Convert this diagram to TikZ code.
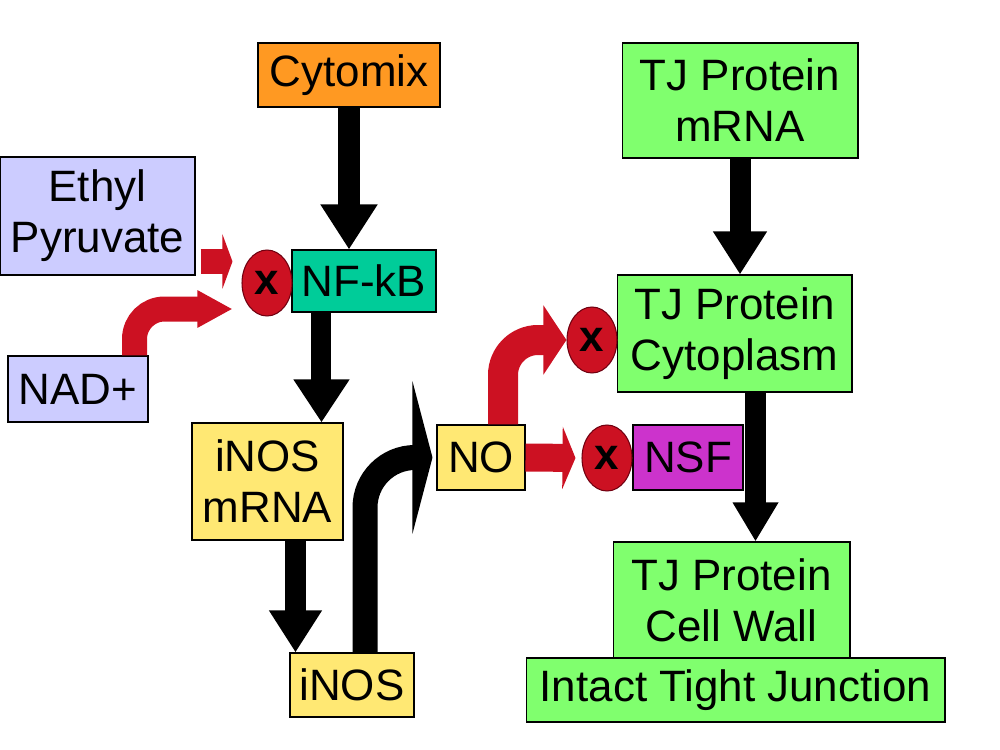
\documentclass[tikz,border=0pt]{standalone}
\usepackage{fontspec}
\setmainfont{Liberation Sans}
\usetikzlibrary{shapes.geometric, arrows.meta, calc}

\definecolor{cytoorange}{HTML}{FF9922}
\definecolor{tjgreen}{HTML}{80FF6E}
\definecolor{lavender}{HTML}{CCCCFF}
\definecolor{nfteal}{HTML}{00CC99}
\definecolor{inosyellow}{HTML}{FFE873}
\definecolor{nsfpurple}{HTML}{CC33CC}
\definecolor{inhibred}{HTML}{CC1122}
\definecolor{darkred}{HTML}{700010}

\tikzset{
  box/.style={draw=black, line width=0.6pt, inner sep=0pt, align=center,
    font=\fontsize{25}{29}\selectfont},
  blocker/.style={ellipse, draw=darkred, line width=0.6pt, fill=inhibred,
    minimum width=1cm, minimum height=1.32cm, inner sep=0pt,
    font=\fontsize{25}{29}\selectfont\bfseries},
  fat/.style n args={3}{line width=#1, -{Triangle[width=#2,length=#3]}},
}

\begin{document}
\begin{tikzpicture}[x=0.02cm, y=-0.02cm]
		\useasboundingbox (0,0) rectangle (1000,750);
		
		% left column
		\node[box, fill=cytoorange, minimum width=3.64cm, minimum height=1.28cm] (cytomix) at (349,75) {Cytomix};
		\node[box, fill=lavender, minimum width=3.9cm, minimum height=2.36cm] (ethyl) at (97.5,216) {Ethyl\\Pyruvate};
		\node[box, fill=nfteal, minimum width=2.88cm, minimum height=1.24cm] (nfkb) at (364,281) {NF-kB};
		\node[box, fill=lavender, minimum width=2.8cm, minimum height=1.32cm] (nad) at (78,389) {NAD+};
		\node[box, fill=inosyellow, minimum width=3.02cm, minimum height=2.34cm] (inosmrna) at (267.5,481.5) {iNOS\\mRNA};
		\node[box, fill=inosyellow, minimum width=2.48cm, minimum height=1.28cm] (inos) at (352,685) {iNOS};
		\node[box, fill=inosyellow, minimum width=1.76cm, minimum height=1.3cm] (no) at (481,457.5) {NO};
		
		% right column
		\node[box, fill=tjgreen, minimum width=4.72cm, minimum height=2.3cm] (tjmrna) at (740,100.5) {TJ Protein\\mRNA};
		\node[box, fill=tjgreen, minimum width=4.7cm, minimum height=2.34cm] (tjcyto) at (734.5,333.5) {TJ Protein\\Cytoplasm};
		\node[box, fill=nsfpurple, minimum width=2.2cm, minimum height=1.3cm] (nsf) at (688,457.5) {NSF};
		\node[box, fill=tjgreen, minimum width=4.74cm, minimum height=2.32cm] (tjwall) at (731.5,600) {TJ Protein\\Cell Wall};
		\node[box, fill=tjgreen, minimum width=8.38cm, minimum height=1.28cm] (intact) at (735.5,690) {Intact Tight Junction};
		
		% inhibitors
		\node[blocker] (x1) at (267,283) {x};
		\node[blocker] (x2) at (592,340) {x};
		\node[blocker] (x3) at (607,458) {x};
		
		% arrow start points
		\coordinate (nfout) at ($(nfkb.south west)+(30,0)$);
		\coordinate (mrnaout) at ($(inosmrna.south west)+(104,0)$);
		\coordinate (cytoout) at ($(tjcyto.south)+(21,0)$);
		\coordinate (inosout) at ($(inos.north)+(13,0)$);
		\coordinate (ethylout) at ($(ethyl.south east)+(5,-14)$);
		\coordinate (nadout) at ($(nad.north east)+(-14,0)$);
		\coordinate (nadin) at ($(x1.west)+(-9,26)$);
		\coordinate (noup) at ($(no.north)+(22,0)$);
		
		% black arrows
		\draw[fat={0.44cm}{1.08cm}{0.9cm}] (cytomix.south) -- (cytomix.south |- nfkb.north);
		\draw[fat={0.42cm}{1.02cm}{0.86cm}] (tjmrna.south) -- (tjmrna.south |- tjcyto.north);
		\draw[fat={0.4cm}{1.06cm}{0.86cm}] (nfout) -- (nfout |- inosmrna.north);
		\draw[fat={0.42cm}{1cm}{0.84cm}] (mrnaout) -- (mrnaout |- inos.north);
		\draw[fat={0.42cm}{0.86cm}{0.78cm}] (cytoout) -- (cytoout |- tjwall.north);
		\draw[fat={0.5cm}{3.04cm}{0.4cm}, rounded corners=1cm, shorten >=0.08cm] (inosout) |- (no.west);
		
		% red arrows
		\draw[inhibred, fat={0.5cm}{1.08cm}{0.2cm}] (ethylout) -- (ethylout -| nadin);
		\draw[inhibred, fat={0.5cm}{0.7cm}{0.7cm}, rounded corners=0.6cm] (nadout) |- (nadin);
		\draw[inhibred, fat={0.6cm}{1.36cm}{0.46cm}, rounded corners=0.7cm] (noup) |- (x2.west);
		\draw[inhibred, fat={0.56cm}{1.24cm}{0.26cm}, shorten >=0.12cm] (no.east) -- (x3.west);
		
\end{tikzpicture}
\end{document}
